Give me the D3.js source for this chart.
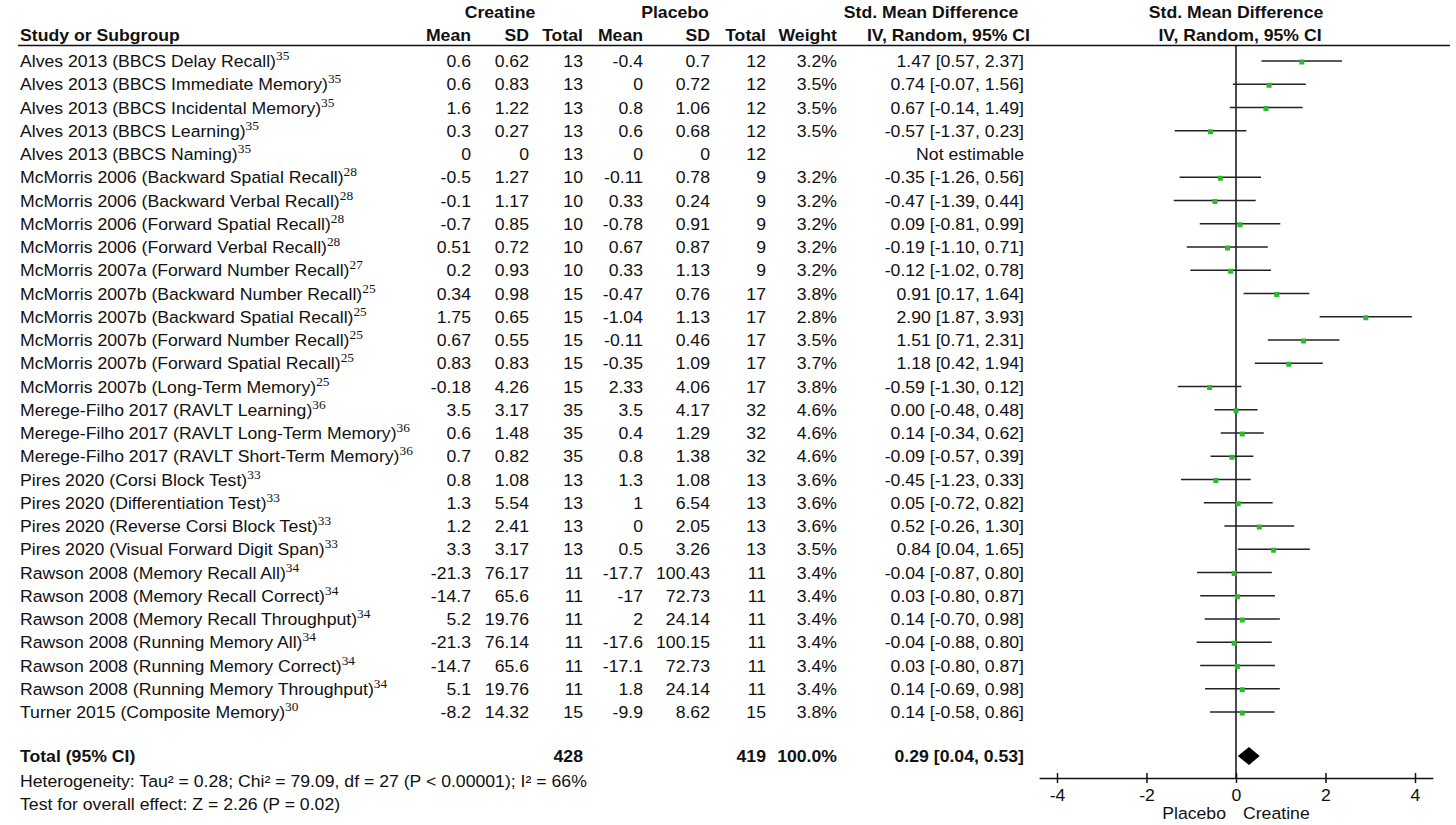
<!DOCTYPE html>
<html><head><meta charset="utf-8">
<script src="https://cdn.jsdelivr.net/npm/d3@7"></script>
<style>
body{margin:0;background:#fff;}
svg{display:block;}
text{font-family:"Liberation Sans",Arial,sans-serif;fill:#111;}
</style></head>
<body>
<svg id="chart" width="1456" height="825"></svg>
<script>
const studies = [
 "Alves 2013 (BBCS Delay Recall)","Alves 2013 (BBCS Immediate Memory)","Alves 2013 (BBCS Incidental Memory)",
 "Alves 2013 (BBCS Learning)","Alves 2013 (BBCS Naming)","McMorris 2006 (Backward Spatial Recall)",
 "McMorris 2006 (Backward Verbal Recall)","McMorris 2006 (Forward Spatial Recall)","McMorris 2006 (Forward Verbal Recall)",
 "McMorris 2007a (Forward Number Recall)","McMorris 2007b (Backward Number Recall)","McMorris 2007b (Backward Spatial Recall)",
 "McMorris 2007b (Forward Number Recall)","McMorris 2007b (Forward Spatial Recall)","McMorris 2007b (Long-Term Memory)",
 "Merege-Filho 2017 (RAVLT Learning)","Merege-Filho 2017 (RAVLT Long-Term Memory)","Merege-Filho 2017 (RAVLT Short-Term Memory)",
 "Pires 2020 (Corsi Block Test)","Pires 2020 (Differentiation Test)","Pires 2020 (Reverse Corsi Block Test)",
 "Pires 2020 (Visual Forward Digit Span)","Rawson 2008 (Memory Recall All)","Rawson 2008 (Memory Recall Correct)",
 "Rawson 2008 (Memory Recall Throughput)","Rawson 2008 (Running Memory All)","Rawson 2008 (Running Memory Correct)",
 "Rawson 2008 (Running Memory Throughput)","Turner 2015 (Composite Memory)"];
const refs = ["35","35","35","35","35","28","28","28","28","27","25","25","25","25","25","36","36","36","33","33","33","33","34","34","34","34","34","34","30"];
const creMean = [0.6,0.6,1.6,0.3,0,-0.5,-0.1,-0.7,0.51,0.2,0.34,1.75,0.67,0.83,-0.18,3.5,0.6,0.7,0.8,1.3,1.2,3.3,-21.3,-14.7,5.2,-21.3,-14.7,5.1,-8.2];
const creSD = [0.62,0.83,1.22,0.27,0,1.27,1.17,0.85,0.72,0.93,0.98,0.65,0.55,0.83,4.26,3.17,1.48,0.82,1.08,5.54,2.41,3.17,76.17,65.6,19.76,76.14,65.6,19.76,14.32];
const creN = [13,13,13,13,13,10,10,10,10,10,15,15,15,15,15,35,35,35,13,13,13,13,11,11,11,11,11,11,15];
const plaMean = [-0.4,0,0.8,0.6,0,-0.11,0.33,-0.78,0.67,0.33,-0.47,-1.04,-0.11,-0.35,2.33,3.5,0.4,0.8,1.3,1,0,0.5,-17.7,-17,2,-17.6,-17.1,1.8,-9.9];
const plaSD = [0.7,0.72,1.06,0.68,0,0.78,0.24,0.91,0.87,1.13,0.76,1.13,0.46,1.09,4.06,4.17,1.29,1.38,1.08,6.54,2.05,3.26,100.43,72.73,24.14,100.15,72.73,24.14,8.62];
const plaN = [12,12,12,12,12,9,9,9,9,9,17,17,17,17,17,32,32,32,13,13,13,13,11,11,11,11,11,11,15];
const weights = [3.2,3.5,3.5,3.5,null,3.2,3.2,3.2,3.2,3.2,3.8,2.8,3.5,3.7,3.8,4.6,4.6,4.6,3.6,3.6,3.6,3.5,3.4,3.4,3.4,3.4,3.4,3.4,3.8];
const smd = [1.47,0.74,0.67,-0.57,null,-0.35,-0.47,0.09,-0.19,-0.12,0.91,2.90,1.51,1.18,-0.59,0.00,0.14,-0.09,-0.45,0.05,0.52,0.84,-0.04,0.03,0.14,-0.04,0.03,0.14,0.14];
const ciLow = [0.57,-0.07,-0.14,-1.37,null,-1.26,-1.39,-0.81,-1.10,-1.02,0.17,1.87,0.71,0.42,-1.30,-0.48,-0.34,-0.57,-1.23,-0.72,-0.26,0.04,-0.87,-0.80,-0.70,-0.88,-0.80,-0.69,-0.58];
const ciHigh = [2.37,1.56,1.49,0.23,null,0.56,0.44,0.99,0.71,0.78,1.64,3.93,2.31,1.94,0.12,0.48,0.62,0.39,0.33,0.82,1.30,1.65,0.80,0.87,0.98,0.80,0.87,0.98,0.86];
const totalCre = 428, totalPla = 419, totalWeight = 100.0;
const totalEffect = [0.29, 0.04, 0.53];
const axisTicks = [-4,-2,0,2,4];
const axisLabels = ["Placebo","Creatine"];
const heterogeneity = "Heterogeneity: Tau² = 0.28; Chi² = 79.09, df = 27 (P < 0.00001); I² = 66%";
const overallTest = "Test for overall effect: Z = 2.26 (P = 0.02)";

const svg = d3.select("#chart");
const FS = 16.5, SX = 1.07;
const loc = d3.formatLocale({decimal:".", thousands:",", grouping:[3], currency:["",""], minus:"-"});
const f2 = loc.format(".2f"), f1 = loc.format(".1f");
const fmtNum = v => String(v);

const y = d3.scaleLinear().domain([0, studies.length-1]).range([61, 712]);
const x = d3.scaleLinear().domain([-4,4]).range([1057,1415]);
const axisY = 778;

// stretched text helper
function T(g, px, py, str, anchor, bold){
  const t = g.append("text").attr("transform",`translate(${px},${py}) scale(${SX},1)`)
    .attr("font-size",FS).attr("text-anchor",anchor||"start");
  if(bold) t.style("font-weight","bold");
  if(str!=null) t.text(str);
  return t;
}

const cols = [
  {r:471, vals:creMean, fmt:fmtNum, head:"Mean"},
  {r:529, vals:creSD, fmt:fmtNum, head:"SD"},
  {r:583, vals:creN, fmt:fmtNum, head:"Total"},
  {r:643, vals:plaMean, fmt:fmtNum, head:"Mean"},
  {r:710, vals:plaSD, fmt:fmtNum, head:"SD"},
  {r:766, vals:plaN, fmt:fmtNum, head:"Total"},
  {r:837, vals:weights, fmt:v => v==null?"":f1(v)+"%", head:"Weight"}
];
const smdR = 1024;

// header
const hdr = svg.append("g");
T(hdr, 20, 41, "Study or Subgroup", "start", true);
cols.forEach(c=>T(hdr, c.r, 41, c.head, "end", true));
T(hdr, 500, 18, "Creatine", "middle", true);
T(hdr, 675, 18, "Placebo", "middle", true);
T(hdr, 931, 18, "Std. Mean Difference", "middle", true);
T(hdr, 1030, 41, "IV, Random, 95% CI", "end", true);
T(hdr, x(0), 18, "Std. Mean Difference", "middle", true);
T(hdr, 1240, 41, "IV, Random, 95% CI", "middle", true);
svg.append("line").attr("x1",18).attr("x2",1450).attr("y1",45.5).attr("y2",45.5).attr("stroke","#111").attr("stroke-width",1.5);

// rows
const rows = svg.append("g");
studies.forEach((s,i)=>{
  const t = T(rows, 20, y(i)+6, null, "start");
  t.append("tspan").text(s);
  t.append("tspan").attr("dy",-7).attr("font-family","'Liberation Serif',serif").attr("font-size",12.5).text(refs[i]);
  cols.forEach(c=>T(rows, c.r, y(i)+6, c.fmt(c.vals[i]), "end"));
  T(rows, smdR, y(i)+6, smd[i]==null ? "Not estimable" : `${f2(smd[i])} [${f2(ciLow[i])}, ${f2(ciHigh[i])}]`, "end");
});

// total row
const ty = 756;
const tot = svg.append("g");
T(tot, 20, ty+6, "Total (95% CI)", "start", true);
T(tot, cols[2].r, ty+6, totalCre, "end", true);
T(tot, cols[5].r, ty+6, totalPla, "end", true);
T(tot, cols[6].r, ty+6, f1(totalWeight)+"%", "end", true);
T(tot, smdR, ty+6, `${f2(totalEffect[0])} [${f2(totalEffect[1])}, ${f2(totalEffect[2])}]`, "end", true);
T(tot, 20, 787, heterogeneity, "start");
T(tot, 20, 810, overallTest, "start");

// forest plot
const fp = svg.append("g");
fp.append("line").attr("x1",x(0)).attr("x2",x(0)).attr("y1",45).attr("y2",axisY).attr("stroke","#111").attr("stroke-width",1.5);
studies.forEach((s,i)=>{
  if(smd[i]==null) return;
  fp.append("line").attr("x1",x(ciLow[i])).attr("x2",x(ciHigh[i])).attr("y1",y(i)).attr("y2",y(i))
    .attr("stroke","#222").attr("stroke-width",1.5);
  fp.append("rect").attr("x",x(smd[i])-2.5).attr("y",y(i)-1.5).attr("width",5).attr("height",5).attr("fill","#2eb82e");
});
fp.append("path").attr("fill","#000")
  .attr("d",`M${x(totalEffect[1])},${ty}L${x(totalEffect[0])},${ty-9}L${x(totalEffect[2])},${ty}L${x(totalEffect[0])},${ty+9}Z`);

// axis
const axScale = d3.scaleLinear().domain([-4.4,4.4]).range([x(-4.4),x(4.4)]);
const ax = svg.append("g").attr("transform",`translate(0,${axisY})`)
  .call(d3.axisBottom(axScale).tickValues(axisTicks).tickSize(5).tickSizeOuter(0).tickPadding(4).tickFormat(loc.format("d")));
ax.select(".domain").attr("stroke","#111").attr("stroke-width",1.5);
ax.selectAll(".tick line").attr("y1",-5).attr("y2",5).attr("stroke","#111").attr("stroke-width",1.5);
ax.selectAll(".tick text").attr("font-size",FS).attr("font-family","'Liberation Sans',Arial,sans-serif")
  .attr("fill","#111").attr("y",0).attr("dy",0).attr("transform",`translate(0,23) scale(${SX},1)`);
T(svg, 1226, 819, axisLabels[0], "end");
T(svg, 1243, 819, axisLabels[1], "start");
</script>
</body></html>
